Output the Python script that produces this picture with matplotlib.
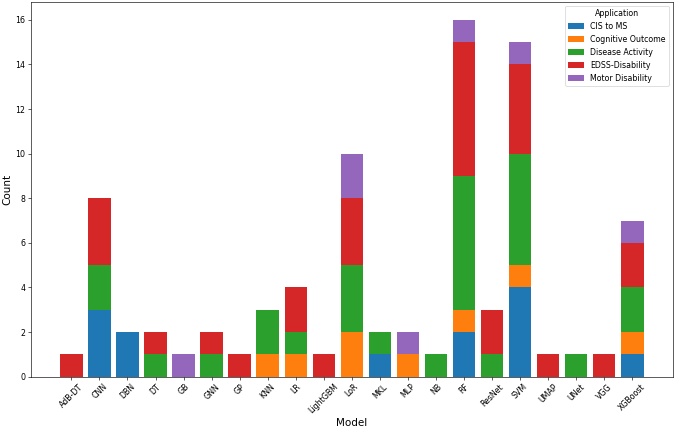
import matplotlib
matplotlib.use("Agg")
import matplotlib.pyplot as plt
import numpy as np

models = ["AdB-DT", "CNN", "DBN", "DT", "GB", "GNN", "GP", "KNN", "LR", "LightGBM",
          "LoR", "MKL", "MLP", "NB", "RF", "ResNet", "SVM", "UMAP", "UNet", "VGG", "XGBoost"]
applications = ["CIS to MS", "Cognitive Outcome", "Disease Activity", "EDSS-Disability", "Motor Disability"]

cis_to_ms =         [0, 3, 2, 0, 0, 0, 0, 0, 0, 0, 0, 1, 0, 0, 2, 0, 4, 0, 0, 0, 1]
cognitive_outcome = [0, 0, 0, 0, 0, 0, 0, 1, 1, 0, 2, 0, 1, 0, 1, 0, 1, 0, 0, 0, 1]
disease_activity =  [0, 2, 0, 1, 0, 1, 0, 2, 1, 0, 3, 1, 0, 1, 6, 1, 5, 0, 1, 0, 2]
edss_disability =   [1, 3, 0, 1, 0, 1, 1, 0, 2, 1, 3, 0, 0, 0, 6, 2, 4, 1, 0, 1, 2]
motor_disability =  [0, 0, 0, 0, 1, 0, 0, 0, 0, 0, 2, 0, 1, 0, 1, 0, 1, 0, 0, 0, 1]

series = [cis_to_ms, cognitive_outcome, disease_activity, edss_disability, motor_disability]
colors = ["#1f77b4", "#ff7f0e", "#2ca02c", "#d62728", "#9467bd"]

DPI = 56.25
fig, ax = plt.subplots(figsize=(675 / DPI, 429 / DPI), dpi=DPI)
x = np.arange(len(models))
bottom = np.zeros(len(models))
for name, vals, c in zip(applications, series, colors):
    vals = np.array(vals, dtype=float)
    ax.bar(x, vals, 0.8, bottom=bottom, color=c, label=name)
    bottom += vals

ax.set_xticks(x)
ax.set_xticklabels(models, rotation=45)
ax.set_xlabel("Model", fontsize=13.3)
ax.set_ylabel("Count", fontsize=13.3)
ax.legend(title="Application", loc="upper right")
fig.subplots_adjust(left=0.0459, right=0.9966, top=0.9953, bottom=0.122)
fig.savefig("out.png", dpi=DPI)
